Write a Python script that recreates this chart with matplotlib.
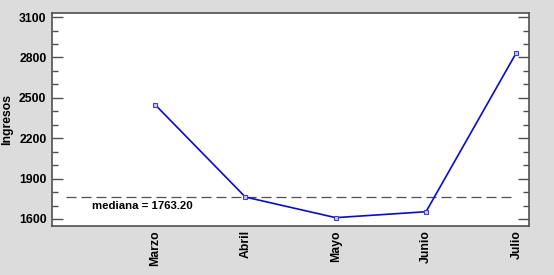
import matplotlib
matplotlib.use("Agg")
import matplotlib.pyplot as plt
from matplotlib.ticker import MultipleLocator

months = ["Marzo", "Abril", "Mayo", "Junio", "Julio"]
ingresos = [2450, 1763.2, 1610, 1654, 2835]
mediana = 1763.20

plt.rcParams['font.family'] = ['Liberation Sans', 'DejaVu Sans']

fig = plt.figure(figsize=(5.54, 2.75), dpi=100, facecolor='#dcdcdc')
ax = fig.add_axes([52/554, 1-226/275, (529-52)/554, (226-13)/275])
ax.set_facecolor('white')

x = list(range(len(months)))
ax.plot(x, ingresos, color='#0a0ad0', lw=1.2, marker='s', ms=3,
        mfc='#c8c8f0', mec='#4040c0', mew=0.8, zorder=3)
ax.plot([-0.99, 4.0], [mediana, mediana], color='#505050', lw=0.9,
        dashes=(8, 4), zorder=2)
ax.text(-0.7, 1700, f"mediana = {mediana:.2f}", fontsize=8.2, fontweight='bold',
        va='center', ha='left')

ax.set_xlim(-1.14, 4.14)
ax.set_ylim(1548, 3130)
ax.yaxis.set_minor_locator(MultipleLocator(100))
ax.set_yticks([1600, 1900, 2200, 2500, 2800, 3100])
ax.tick_params(axis='y', which='major', direction='in', length=8, width=1,
               color='#505050', right=True, labelsize=8.8, pad=4)
ax.tick_params(axis='y', which='minor', direction='in', length=4, width=1,
               color='#505050', right=True)
for lab in ax.get_yticklabels():
    lab.set_fontweight('bold')

ax.set_xticks(x)
ax.set_xticklabels(months, rotation=90, fontsize=8.8, fontweight='bold')
ax.tick_params(axis='x', length=0, pad=3)

ax.set_ylabel("Ingresos", fontsize=8.8, fontweight='bold', labelpad=4)

for s in ax.spines.values():
    s.set_color('#505050')
    s.set_linewidth(1.2)

fig.savefig("out.png", dpi=100, facecolor=fig.get_facecolor())
